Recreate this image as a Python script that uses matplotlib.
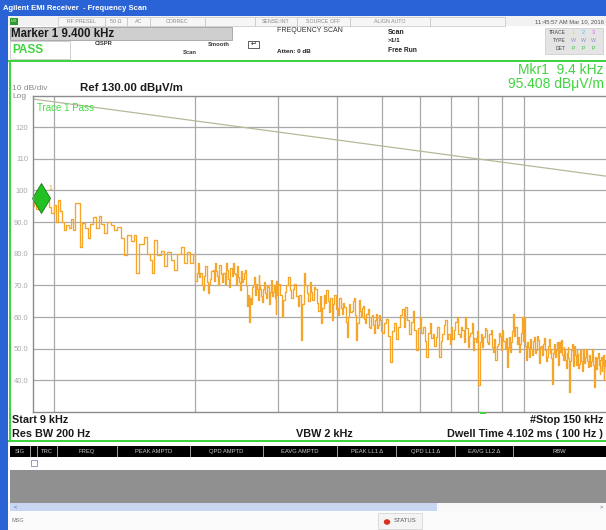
import numpy as np
import matplotlib
matplotlib.use("Agg")
import matplotlib.pyplot as plt
import matplotlib.transforms as mtransforms
from matplotlib.patches import Rectangle
from matplotlib.ticker import FixedLocator, NullLocator

# === Trace data (frequency in kHz, level in dBuV/m) ===
freq_9_20 = [9.0, 9.06, 9.15, 9.24, 9.4, 9.52, 9.66, 9.76, 9.85, 10.0,
             10.1, 10.2, 10.3, 10.4, 10.5, 10.6, 10.76, 10.87, 10.97, 11.08,
             11.25, 11.36, 11.47, 11.64, 11.81, 11.93, 12.1, 12.28, 12.47, 12.59,
             12.78, 12.97, 13.22, 13.42, 13.62, 13.88, 14.09, 14.3, 14.58, 14.79,
             14.94, 15.17, 15.54, 15.77, 16.0, 16.16, 16.32, 16.56, 16.89, 17.14,
             17.4, 17.73, 18.0, 18.27, 18.63, 18.91, 19.19, 19.48, 19.77]
level_9_20 = [95.0, 96.5, 94.0, 96.0, 95.4, 98.5, 97.0, 94.8, 93.0, 95.5,
              90.0, 97.0, 93.5, 90.0, 87.5, 89.0, 88.0, 91.0, 87.5, 96.0,
              96.0, 82.0, 89.7, 88.0, 85.0, 89.5, 91.6, 88.0, 92.0, 89.5,
              86.6, 90.0, 89.0, 87.5, 88.5, 85.0, 79.6, 86.0, 84.0, 86.0,
              74.0, 83.0, 85.3, 80.0, 78.0, 74.0, 84.3, 79.5, 81.0, 76.0,
              80.5, 78.0, 75.0, 80.0, 82.0, 77.0, 80.5, 77.0, 80.0]

freq_20_30 = [20.0, 20.125, 20.25, 20.375, 20.5, 20.625, 20.75, 20.875,
              21.0, 21.125, 21.25, 21.375, 21.5, 21.625, 21.75, 21.875,
              22.0, 22.125, 22.25, 22.375, 22.5, 22.625, 22.75, 22.875,
              23.0, 23.125, 23.25, 23.375, 23.5, 23.625, 23.75, 23.875,
              24.0, 24.125, 24.25, 24.375, 24.5, 24.625, 24.75, 24.875,
              25.0, 25.125, 25.25, 25.375, 25.5, 25.625, 25.75, 25.875,
              26.0, 26.125, 26.25, 26.375, 26.5, 26.625, 26.75, 26.875,
              27.0, 27.125, 27.25, 27.375, 27.5, 27.625, 27.75, 27.875,
              28.0, 28.125, 28.25, 28.375, 28.5, 28.625, 28.75, 28.875,
              29.0, 29.125, 29.25, 29.375, 29.5, 29.625, 29.75, 29.875]
level_20_30 = [71.5, 74.0, 77.0, 72.5, 74.0, 70.0, 68.5, 73.0, 76.0, 71.0,
               67.5, 70.5, 72.0, 74.5, 75.0, 71.5, 77.0, 74.5, 73.0, 70.0,
               76.5, 73.5, 71.0, 74.0, 74.0, 70.5, 77.0, 75.0, 72.0, 69.5,
               75.5, 73.0, 77.0, 74.0, 73.5, 70.0, 76.0, 72.5, 71.0, 68.5,
               74.5, 71.0, 72.0, 74.0, 75.0, 70.0, 63.5, 67.0, 58.5, 66.0,
               64.0, 69.5, 70.0, 72.5, 67.0, 70.5, 69.0, 65.5, 73.3, 70.0,
               69.0, 66.5, 64.8, 69.0, 71.0, 67.5, 66.0, 70.0, 69.5, 65.5,
               64.0, 68.0, 71.7, 66.5, 68.0, 70.0, 66.0, 61.0, 71.5, 67.0]

freq_30_50 = [30.0, 30.25, 30.5, 30.75, 31.0, 31.25, 31.5, 31.75,
              32.0, 32.25, 32.5, 32.75, 33.0, 33.25, 33.5, 33.75,
              34.0, 34.25, 34.5, 34.75, 35.0, 35.25, 35.5, 35.75,
              36.0, 36.25, 36.5, 36.75, 37.0, 37.25, 37.5, 37.75,
              38.0, 38.25, 38.5, 38.75, 39.0, 39.25, 39.5, 39.75,
              40.0, 40.25, 40.5, 40.75, 41.0, 41.25, 41.5, 41.75,
              42.0, 42.25, 42.5, 42.75, 43.0, 43.25, 43.5, 43.75,
              44.0, 44.25, 44.5, 44.75, 45.0, 45.25, 45.5, 45.75,
              46.0, 46.25, 46.5, 46.75, 47.0, 47.25, 47.5, 47.75,
              48.0, 48.25, 48.5, 48.75, 49.0, 49.25, 49.5, 49.75]
level_30_50 = [70.5, 67.0, 60.0, 65.5, 68.0, 70.0, 72.7, 68.5, 66.0, 69.0,
               70.5, 66.5, 63.5, 67.0, 52.7, 64.0, 74.0, 70.0, 67.5, 65.0,
               71.0, 68.0, 65.5, 69.5, 69.0, 64.5, 62.0, 66.5, 58.0, 63.0,
               67.0, 64.5, 68.5, 65.0, 61.5, 66.0, 59.0, 64.0, 67.0, 62.5,
               63.0, 60.5, 66.0, 63.0, 61.0, 64.5, 63.3, 58.5, 53.7, 60.0,
               64.0, 61.5, 62.0, 65.0, 66.0, 60.5, 52.7, 58.0, 65.5, 62.0,
               60.0, 63.0, 63.5, 59.5, 58.0, 61.0, 62.5, 57.0, 56.5, 60.0,
               60.5, 57.5, 55.0, 59.0, 61.0, 56.5, 57.5, 60.5, 59.0, 55.5]

freq_50_100 = [50.0, 50.5, 51.0, 51.5, 52.0, 52.5, 53.0, 53.5, 54.0, 54.5,
               55.0, 55.5, 56.0, 56.5, 57.0, 57.5, 58.0, 58.5, 59.0, 59.5,
               60.0, 60.5, 61.0, 61.5, 62.0, 62.5, 63.0, 63.5, 64.0, 64.5,
               65.0, 65.5, 66.0, 66.5, 67.0, 67.5, 68.0, 68.5, 69.0, 69.5,
               70.0, 70.5, 71.0, 71.5, 72.0, 72.5, 73.0, 73.5, 74.0, 74.5,
               75.0, 75.5, 76.0, 76.5, 77.0, 77.5, 78.0, 78.5, 79.0, 79.5,
               80.0, 80.5, 81.0, 81.5, 82.0, 82.5, 83.0, 83.5, 84.0, 84.5,
               85.0, 85.5, 86.0, 86.5, 87.0, 87.5, 88.0, 88.5, 89.0, 89.5,
               90.0, 90.5, 91.0, 91.5, 92.0, 92.5, 93.0, 93.5, 94.0, 94.5,
               95.0, 95.5, 96.0, 96.5, 97.0, 97.5, 98.0, 98.5, 99.0, 99.5]
level_50_100 = [55.0, 58.0, 59.5, 54.0, 45.7, 55.5, 58.0, 53.0, 56.8, 60.5,
                62.6, 57.0, 63.2, 59.0, 54.7, 58.5, 62.0, 56.0, 49.5, 56.5,
                60.0, 55.0, 56.8, 52.5, 47.4, 55.0, 58.0, 53.5, 54.7, 51.0,
                53.7, 57.0, 47.4, 52.5, 54.7, 57.5, 59.0, 53.0, 54.7, 51.5,
                56.8, 53.0, 55.8, 58.5, 60.0, 54.5, 53.7, 57.0, 55.8, 52.0,
                60.0, 56.5, 50.5, 54.0, 55.0, 58.0, 49.5, 53.5, 52.0, 55.5,
                38.4, 52.0, 54.7, 50.5, 53.7, 56.5, 55.8, 52.0, 51.6, 54.5,
                55.8, 50.5, 49.0, 53.0, 46.3, 51.0, 51.6, 55.0, 54.0, 49.5,
                55.8, 52.5, 50.0, 53.5, 44.2, 50.5, 53.7, 49.0, 52.0, 55.5,
                61.0, 54.0, 57.0, 51.5, 53.7, 49.0, 51.6, 55.0, 60.0, 52.5]

freq_100_150 = [100.0, 100.5, 101.0, 101.5, 102.0, 102.5, 103.0, 103.5, 104.0, 104.5,
                105.0, 105.5, 106.0, 106.5, 107.0, 107.5, 108.0, 108.5, 109.0, 109.5,
                110.0, 110.5, 111.0, 111.5, 112.0, 112.5, 113.0, 113.5, 114.0, 114.5,
                115.0, 115.5, 116.0, 116.5, 117.0, 117.5, 118.0, 118.5, 119.0, 119.5,
                120.0, 120.5, 121.0, 121.5, 122.0, 122.5, 123.0, 123.5, 124.0, 124.5,
                125.0, 125.5, 126.0, 126.5, 127.0, 127.5, 128.0, 128.5, 129.0, 129.5,
                130.0, 130.5, 131.0, 131.5, 132.0, 132.5, 133.0, 133.5, 134.0, 134.5,
                135.0, 135.5, 136.0, 136.5, 137.0, 137.5, 138.0, 138.5, 139.0, 139.5,
                140.0, 140.5, 141.0, 141.5, 142.0, 142.5, 143.0, 143.5, 144.0, 144.5,
                145.0, 145.5, 146.0, 146.5, 147.0, 147.5, 148.0, 148.5, 149.0, 149.5,
                150.0]
level_100_150 = [60.0, 51.0, 46.3, 52.0, 50.5, 47.5, 53.0, 50.0, 48.0, 52.5,
                 53.7, 48.5, 49.5, 54.0, 52.6, 47.0, 45.5, 50.5, 51.0, 48.0,
                 51.6, 53.5, 49.5, 46.0, 47.4, 51.0, 53.0, 48.5, 50.0, 47.0,
                 39.0, 48.5, 51.6, 47.5, 49.5, 52.0, 47.0, 45.0, 52.0, 49.0,
                 52.6, 48.0, 46.3, 50.5, 49.5, 46.5, 44.0, 48.5, 50.5, 47.0,
                 36.3, 46.0, 49.5, 51.5, 47.4, 44.5, 51.0, 48.0, 45.0, 49.5,
                 48.4, 44.0, 45.3, 48.5, 49.5, 46.0, 43.0, 47.5, 50.0, 45.5,
                 47.4, 50.0, 49.5, 46.0, 44.2, 47.5, 48.0, 44.5, 46.0, 49.0,
                 50.0, 45.0, 38.0, 46.0, 47.4, 43.5, 44.0, 47.0, 48.5, 45.0,
                 42.0, 46.5, 47.4, 43.0, 45.0, 48.0, 40.0, 44.5, 46.5, 43.0,
                 44.0]

limit_freq = [9, 150]
limit_level = [128.9, 104.5]

marker_freq = 9.4
marker_level = 95.408

x_grid = [10, 20, 30, 40, 50, 60, 70, 80, 90, 100]
y_ticks = [40, 50, 60, 70, 80, 90, 100, 110, 120]
y_tick_labels = ["40.0", "50.0", "60.0", "70.0", "80.0", "90.0", "100", "110", "120"]

table_cols = ["SIG", "", "TRC", "FREQ", "PEAK AMPTD", "QPD AMPTD", "EAVG AMPTD",
              "PEAK LL1 \u0394", "QPD LL1 \u0394", "EAVG LL2 \u0394", "RBW"]
table_edges = [10, 30, 37, 57, 117, 190, 263, 337, 397, 455, 513, 606]

freqs = freq_9_20 + freq_20_30 + freq_30_50 + freq_50_100 + freq_100_150
levels = level_9_20 + level_20_30 + level_30_50 + level_50_100 + level_100_150

# === Screen layout helpers (pixel coords from top-left) ===
W, H = 606, 530
plt.rcParams['font.family'] = ['Liberation Sans', 'DejaVu Sans']

fig = plt.figure(figsize=(W / 100, H / 100), dpi=100)
fig.patch.set_facecolor('white')


def fx(x):
    return x / W


def fy(y):
    return 1 - y / H


def box(x0, y0, x1, y1, fc, ec='none', lw=0.0, z=1):
    fig.add_artist(Rectangle((fx(x0), fy(y1)), (x1 - x0) / W, (y1 - y0) / H,
                             transform=fig.transFigure, facecolor=fc,
                             edgecolor=ec, linewidth=lw, zorder=z))


def txt(x, y, s, size=6, color='black', weight='normal', ha='left', va='center', z=5):
    fig.text(fx(x), fy(y), s, fontsize=size, color=color, fontweight=weight,
             ha=ha, va=va, zorder=z)


# === Window chrome ===
box(0, 0, W, 16, '#2a63d6')
txt(3, 8, "Agilent EMI Receiver  - Frequency Scan", size=5.5, color='white', weight='bold')
box(0, 16, 8, H, '#2a63d6')

# status row
box(8, 16, W, 26, '#f2f2f2')
box(10, 18, 18, 25, '#2f9a2f')
txt(14, 21.5, "LXI", size=3, color='#d8ffd8', ha='center')
for x0, x1, s in [(58, 105, "RF PRESEL"), (105, 127, "50 \u03a9"), (127, 150, "AC"),
                  (150, 205, "CORREC"), (205, 255, ""), (255, 297, "SENSE:INT"),
                  (297, 350, "SOURCE OFF"), (350, 430, "ALIGN AUTO"), (430, 505, "")]:
    box(x0, 17, x1, 25.5, '#f6f6f6', ec='#c4c4c4', lw=0.5)
    txt((x0 + x1) / 2, 21.5, s, size=3.8, color='#8a8a8a', ha='center')
txt(604, 21.5, "11:45:57 AM Mar 10, 2016", size=4.2, color='#555555', ha='right')

# marker / pass rows
box(10, 27.5, 232, 40, '#cfcfcf', ec='#a0a0a0', lw=0.6)
txt(11, 34, "Marker 1 9.400 kHz", size=8.3, weight='bold', color='#1a1a1a')
box(10, 41, 70, 59, 'white', ec='#c8c8c8', lw=0.6)
txt(12, 50, "PASS", size=8.5, weight='bold', color='#3fd43f')
txt(104, 43.5, "CISPR", size=4.2, color='#333333', ha='center', weight='bold')
txt(190, 53, "Scan", size=4.2, color='#333333', ha='center', weight='bold')
txt(219, 44, "Smooth", size=4.2, color='#333333', ha='center', weight='bold')
box(248, 41, 259, 48, 'white', ec='#444444', lw=0.6)
txt(253.5, 44.5, "\u21b5", size=5, color='#222222', ha='center')
txt(277, 31, "FREQUENCY SCAN", size=5, color='#333333')
txt(277, 51.5, "Atten: 0 dB", size=4.6, color='#222222', weight='bold')
txt(388, 32, "Scan", size=5, color='#222222', weight='bold')
txt(388, 41, ">1/1", size=4.6, color='#222222', weight='bold')
txt(388, 51, "Free Run", size=4.8, color='#222222', weight='bold')

box(545, 28, 603, 54, '#e4e4e4', ec='#c8c8c8', lw=0.5)
txt(566, 33, "TRACE", size=3.6, color='#444444', ha='right')
txt(566, 41, "TYPE", size=3.6, color='#444444', ha='right')
txt(566, 49, "DET", size=3.6, color='#444444', ha='right')
for i, (c, col) in enumerate(zip("123", ['#e8d84a', '#38c8e8', '#d060e0'])):
    txt(573 + i * 10, 33, c, size=4, color=col, ha='center')
    txt(573 + i * 10, 41, "W", size=3.8, color='#9090c0', ha='center')
    txt(573 + i * 10, 49, "P", size=3.8, color='#40c040', ha='center')

# green main-window frame
box(8, 59.5, W, 61.5, '#3fd43f', z=2)
box(9, 60, 11, 442, '#3fd43f', z=2)
box(8, 440, W, 442, '#3fd43f', z=2)

# annotation texts
txt(12, 88, "10 dB/div", size=6, color='#8a8a8a')
txt(12, 97, "Log", size=6, color='#8a8a8a')
txt(80, 88, "Ref 130.00 dB\u03bcV/m", size=8.2, weight='bold', color='#1a1a1a')
txt(604, 70, "Mkr1  9.4 kHz", size=10, color='#3fd43f', ha='right')
txt(604, 84, "95.408 dB\u03bcV/m", size=10, color='#3fd43f', ha='right')

txt(12, 420, "Start 9 kHz", size=7.8, weight='bold', color='#1a1a1a')
txt(12, 434, "Res BW 200 Hz", size=7.8, weight='bold', color='#1a1a1a')
txt(296, 434, "VBW 2 kHz", size=7.8, weight='bold', color='#1a1a1a')
txt(603, 420, "#Stop 150 kHz", size=7.8, weight='bold', color='#1a1a1a', ha='right')
txt(603, 434, "Dwell Time 4.102 ms ( 100 Hz )", size=7.8, weight='bold',
    color='#1a1a1a', ha='right')
box(480, 412, 486, 414, '#3fd43f', z=6)

# === Measurement table ===
box(10, 446, W, 457, 'black')
for (x0, x1), s in zip(zip(table_edges[:-1], table_edges[1:]), table_cols):
    box(x1 - 0.5, 446, x1 + 0.5, 457, '#9a9a9a', z=2)
    txt((x0 + x1) / 2, 451.5, s, size=4.2, color='#c8c8c8', ha='center', z=3)
box(10, 457, W, 470, 'white')
box(31, 460, 37, 466, 'white', ec='#8090b0', lw=0.6)
box(10, 470, W, 503, '#909090')
box(10, 503, 437, 511, '#c9d6f2')
box(437, 503, W, 511, '#f8f8f8')
txt(14, 507, "<", size=4, color='#4060a0')
txt(603, 507, ">", size=4, color='#4060a0', ha='right')
box(8, 511, W, H, '#fbfbfb')
txt(11, 521, "MSG", size=4, color='#777777')
box(378, 513, 422, 529, '#f4f4f4', ec='#d0d0d0', lw=0.5)
fig.add_artist(plt.Circle((fx(387), fy(522)), 3.2 / W, transform=fig.transFigure,
                          facecolor='#d83020', edgecolor='none', zorder=4))
txt(394, 521, "STATUS", size=4.2, color='#555555')

# === Spectrum plot ===
ax = fig.add_axes([fx(32.5), fy(412), (606.5 - 32.5) / W, (412 - 95.5) / H])
ax.set_facecolor('white')
ax.set_xscale('log')
ax.set_xlim(9, 150)
ax.set_ylim(30, 130)
ax.xaxis.set_major_locator(FixedLocator(x_grid))
ax.xaxis.set_minor_locator(NullLocator())
ax.set_xticklabels([])
ax.yaxis.set_major_locator(FixedLocator(y_ticks))
ax.set_yticklabels(y_tick_labels)
ax.tick_params(axis='both', length=0, labelsize=5.5, labelcolor='#a8a8a8', pad=3)
ax.grid(True, color='#a9a9a9', lw=0.9)
ax.set_axisbelow(True)
for sp in ax.spines.values():
    sp.set_color('#8c8c8c')
    sp.set_linewidth(1.0)

ax.plot(limit_freq, limit_level, color='#b8b898', lw=0.9)
ax.plot(freqs, levels, drawstyle='steps-post', color='#f5a52a', lw=0.95)

# marker diamond sits a few pixels above its point, as on the instrument
mk_tr = mtransforms.offset_copy(ax.transData, fig=fig, x=0, y=7, units='dots')
ax.plot([marker_freq], [marker_level], marker='d', markersize=15,
        color='#22c022', markeredgecolor='#137a13', markeredgewidth=0.6,
        transform=mk_tr, clip_on=False)
ax.annotate("1", (marker_freq, marker_level), xytext=(7, 15), textcoords='offset pixels',
            fontsize=5, color='#e8a020')
ax.text(0.008, 0.975, "Trace 1 Pass", transform=ax.transAxes, fontsize=7,
        color='#44dd44', va='top', ha='left')

fig.savefig("out.png", dpi=100)
